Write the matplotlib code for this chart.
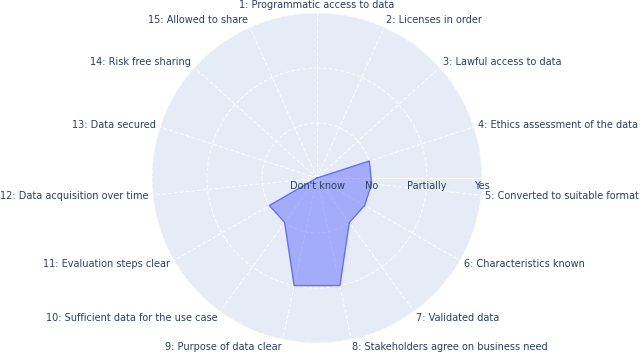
import numpy as np
import matplotlib.pyplot as plt

# categories around the circle (clockwise from the top)
categories = [
    "1: Programmatic access to data",
    "2: Licenses in order",
    "3: Lawful access to data",
    "4: Ethics assessment of the data",
    "5: Converted to suitable format",
    "6: Characteristics known",
    "7: Validated data",
    "8: Stakeholders agree on business need",
    "9: Purpose of data clear",
    "10: Sufficient data for the use case",
    "11: Evaluation steps clear",
    "12: Data acquisition over time",
    "13: Data secured",
    "14: Risk free sharing",
    "15: Allowed to share",
]
levels = ["Don't know", "No", "Partially", "Yes"]
answers = ["Don't know", "Don't know", "Don't know", "No", "No", "No", "No",
           "Partially", "Partially", "No", "No", "Don't know", "Don't know",
           "Don't know", "Don't know"]

text_col = "#2a3f5f"
bg_col = "#E5ECF6"
line_col = "#636efa"

r = np.array([levels.index(a) for a in answers], dtype=float)
theta = np.arange(len(categories)) * 2 * np.pi / len(categories)

fig = plt.figure(figsize=(6.4, 3.55), dpi=100)
cx, cy, R = 317, 178, 165
ax = fig.add_axes([(cx - R) / 640, (355 - cy - R) / 355, 2 * R / 640, 2 * R / 355],
                  projection="polar")
ax.set_theta_zero_location("N")
ax.set_theta_direction(-1)
ax.set_facecolor(bg_col)
ax.set_ylim(0, len(levels) - 1)
ax.spines["polar"].set_visible(False)

ax.set_xticks(theta)
ax.set_xticklabels([])
ax.set_yticks([1, 2, 3])
ax.set_yticklabels([])
ax.tick_params(length=0)
ax.grid(True, color="white", linestyle=(0, (4, 2)), linewidth=0.7)

# radial axis line at the east
ax.plot([np.pi / 2, np.pi / 2], [0, 3], color="white", linewidth=0.6, zorder=1)

tt = np.append(theta, theta[0])
rr = np.append(r, r[0])
ax.fill(tt, rr, color=line_col, alpha=0.5, linewidth=0, zorder=3)
ax.plot(tt, rr, color=line_col, linewidth=1.0, zorder=4)

# angular labels
for t, lab in zip(theta, categories):
    ang = np.pi / 2 - t  # math angle
    c, s = np.cos(ang), np.sin(ang)
    if abs(c) < 0.05:
        ha = "center"
    elif c > 0:
        ha = "left"
    else:
        ha = "right"
    ax.annotate(lab, xy=(t, 3), xytext=(3 * c, 3 * s + 2.5 * s),
                textcoords="offset points", ha=ha, va="center",
                fontsize=7, color=text_col, annotation_clip=False)

# radial tick labels
for i, lab in enumerate(levels):
    ax.annotate(lab, xy=(np.pi / 2, i), xytext=(0, -6), textcoords="offset points",
                ha="center", va="center", fontsize=7, color=text_col, zorder=5,
                annotation_clip=False)

fig.savefig("out.png", dpi=100)
